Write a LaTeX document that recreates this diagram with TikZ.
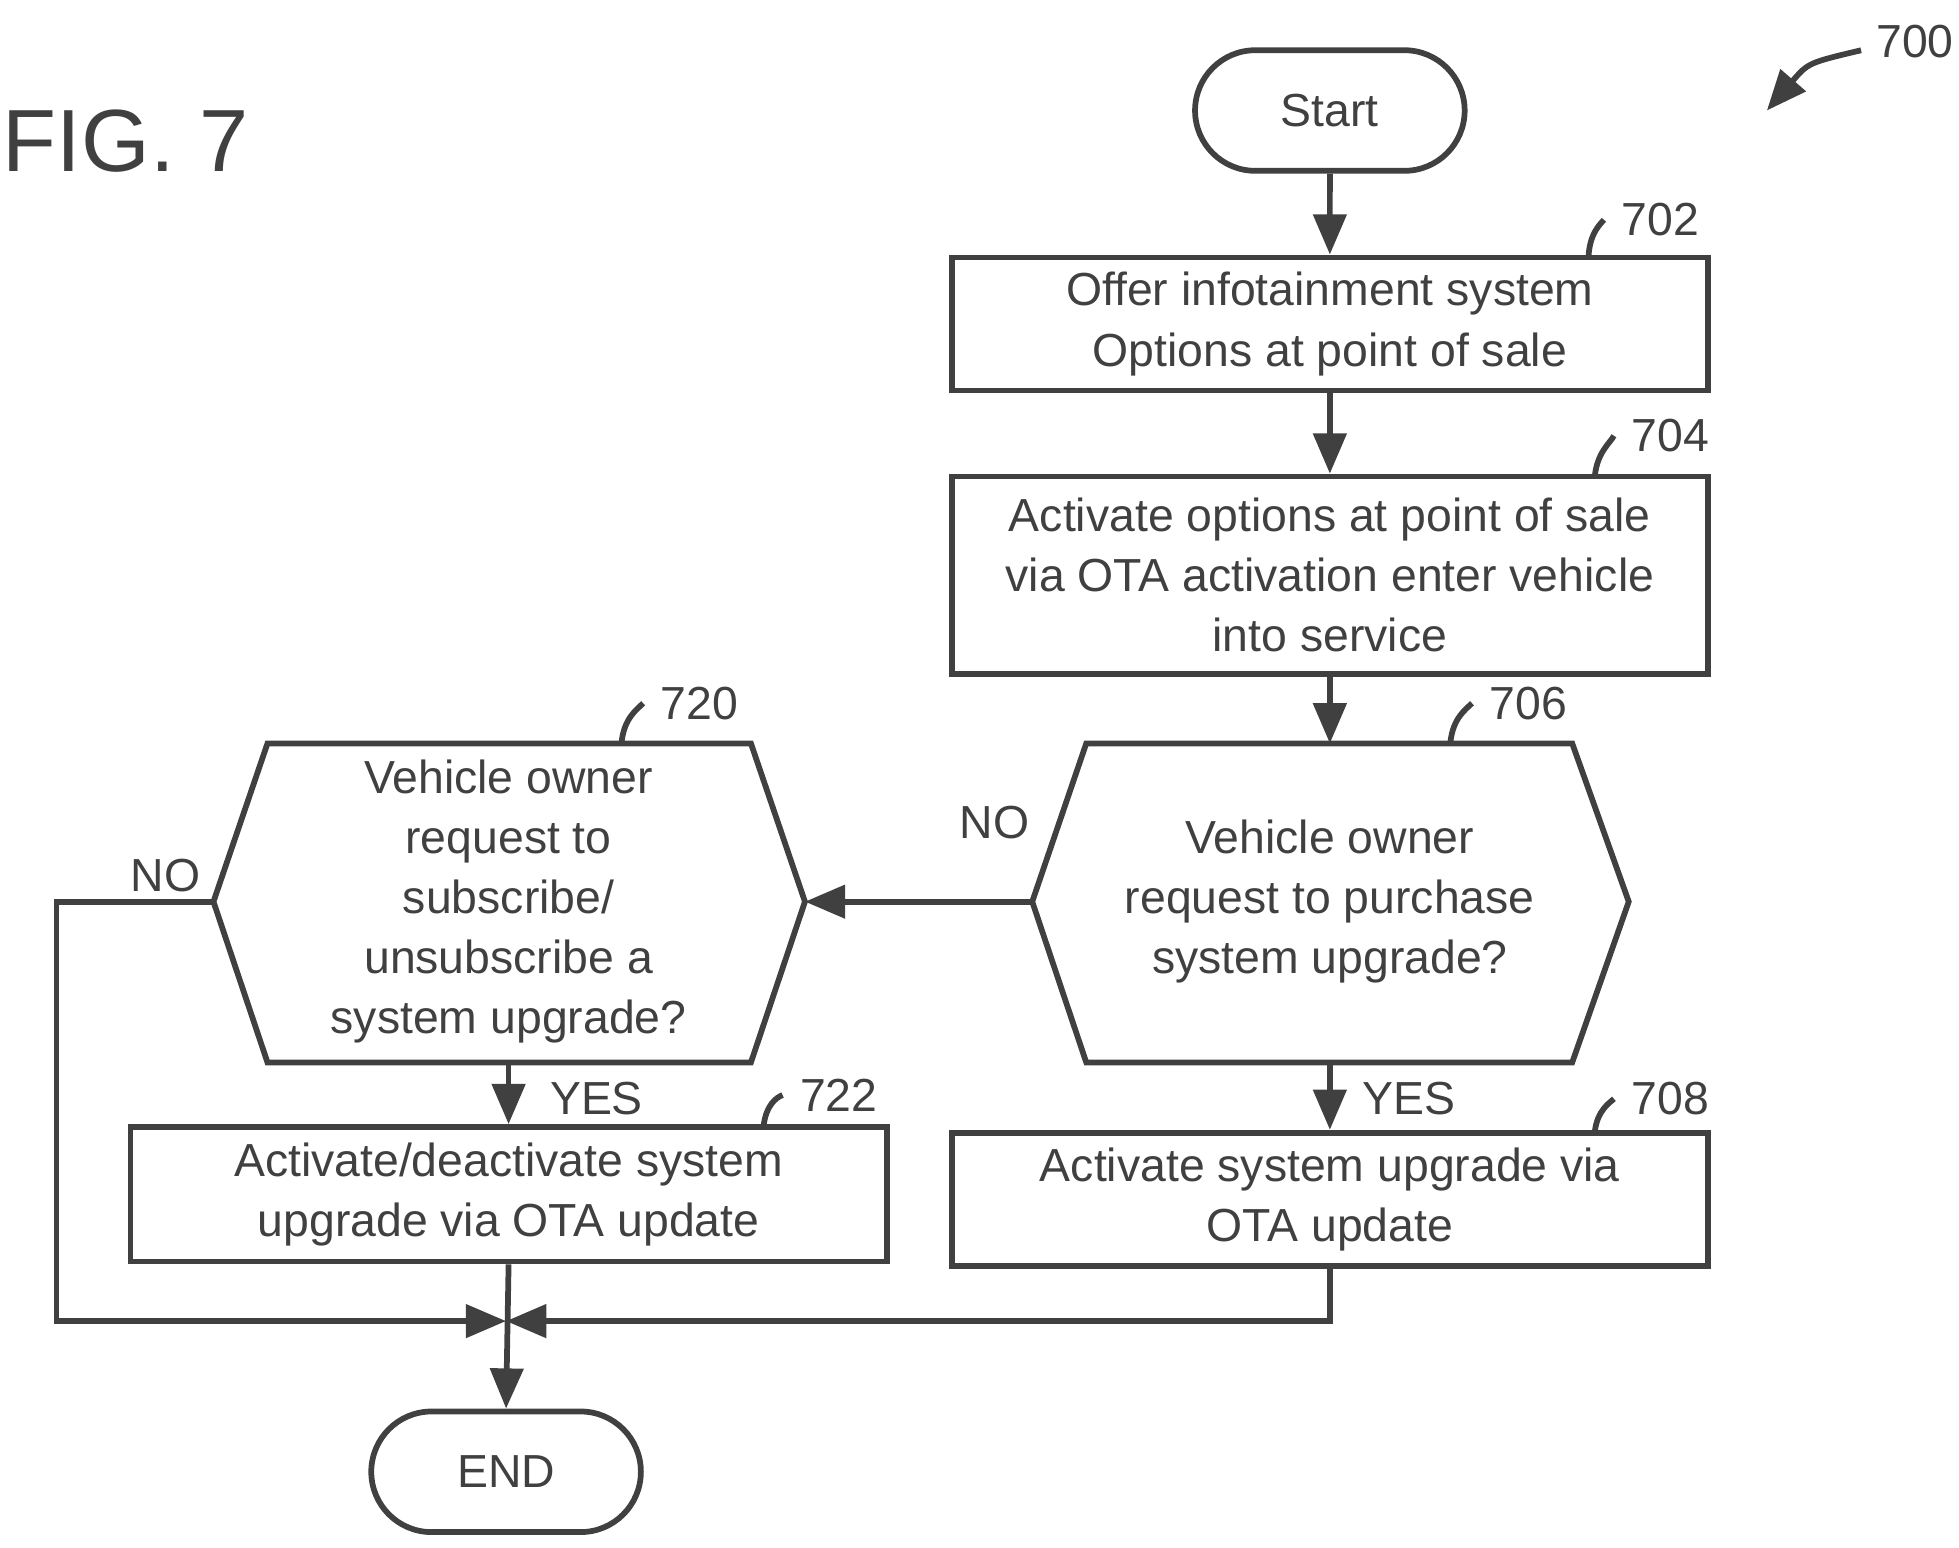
\documentclass[tikz,border=0pt]{standalone}
\usepackage{fontspec}
\setmainfont{Liberation Sans}
\usetikzlibrary{arrows.meta,shapes.misc}
\begin{document}
\begin{tikzpicture}[x=0.01cm,y=-0.01cm,
  line width=1.3pt, draw=black!75, every node/.style={text=black!75},
  txt/.style={font=\fontsize{10.5pt}{13.6pt}\selectfont, align=center},
  box/.style={draw, txt, minimum width=6.02cm, inner sep=0pt},
  pill/.style={draw, rounded rectangle, txt, minimum width=2.38cm, minimum height=0.96cm},
  arr/.style={-{Triangle[length=0.32cm,width=0.26cm]}},
  lbl/.style={font=\fontsize{10.5pt}{12pt}\selectfont}]
\useasboundingbox (0,0) rectangle (1560,1232);
\node[font=\fontsize{20pt}{22pt}\selectfont] (fig) at (100,112) {FIG. 7};
\node[lbl] (n700) at (1525,33) {700};
\coordinate (a700) at (1407,88);
\draw[arr] (1482,40) .. controls (1440,50) .. (a700);
\node[pill] (start) at (1059,88) {Start};
\node[box, minimum height=1.06cm] (b702) at (1059,258) {Offer infotainment system\\Options at point of sale};
\node[box, minimum height=1.57cm] (b704) at (1059,458) {Activate options at point of sale\\via OTA activation enter vehicle\\into service};
\node[txt] (h706) at (1059,718) {Vehicle owner\\request to purchase\\system upgrade?};
\draw (822,718) -- (865,592) -- (1252,592) -- (1297,718) -- (1252,846) -- (865,846) -- cycle;
\coordinate (h706l) at (822,718); \coordinate (h706t) at (1059,592); \coordinate (h706b) at (1059,846);
\node[txt] (h720) at (405,718) {Vehicle owner\\request to\\subscribe/\\unsubscribe a\\system upgrade?};
\draw (170,718) -- (213,592) -- (598,592) -- (641,718) -- (598,846) -- (213,846) -- cycle;
\coordinate (h720l) at (170,718); \coordinate (h720r) at (641,718); \coordinate (h720b) at (405,846);
\node[box, minimum height=1.06cm] (b708) at (1059,955) {Activate system upgrade via\\OTA update};
\node[box, minimum height=1.07cm] (b722) at (405,951) {Activate/deactivate system\\upgrade via OTA update};
\node[pill] (endn) at (403,1172) {END};
\coordinate (j) at (403,1052);
% numbers
\node[lbl] (n702) at (1322,175) {702};
\draw (1265,204) .. controls (1266,185) and (1275,178) .. (n702.west);
\node[lbl] (n704) at (1330,347) {704};
\draw (1270,379) .. controls (1272,360) and (1282,353) .. (n704.west);
\node[lbl] (n706) at (1217,560) {706};
\draw (1155,591) .. controls (1157,572) and (1167,565) .. (n706.west);
\node[lbl] (n720) at (557,560) {720};
\draw (495,591) .. controls (497,572) and (507,565) .. (n720.west);
\node[lbl] (n722) at (668,872) {722};
\draw (608,897) .. controls (610,880) and (618,874) .. (n722.west);
\node[lbl] (n708) at (1330,875) {708};
\draw (1270,901) .. controls (1272,884) and (1282,878) .. (n708.west);
% connectors
\draw[arr] (start) -- (b702);
\draw[arr] (b702) -- (b704);
\draw[arr] (b704) -- (h706t);
\draw[arr] (h706b) -- (b708);
\draw[arr] (h706l) -- (h720r);
\draw[arr] (h720b) -- (b722);
\draw[arr] (h720l) -- (45,718) -- (45,1052) -- (j);
\draw[arr] (b708.south) -- (1059,1052) -- (j);
\draw[arr] (b722.south) -- (endn.north);
\node[lbl] (no1) at (792,655) {NO};
\node[lbl] (no2) at (132,697) {NO};
\node[lbl] (yes1) at (1122,875) {YES};
\node[lbl] (yes2) at (475,875) {YES};
\end{tikzpicture}
\end{document}
